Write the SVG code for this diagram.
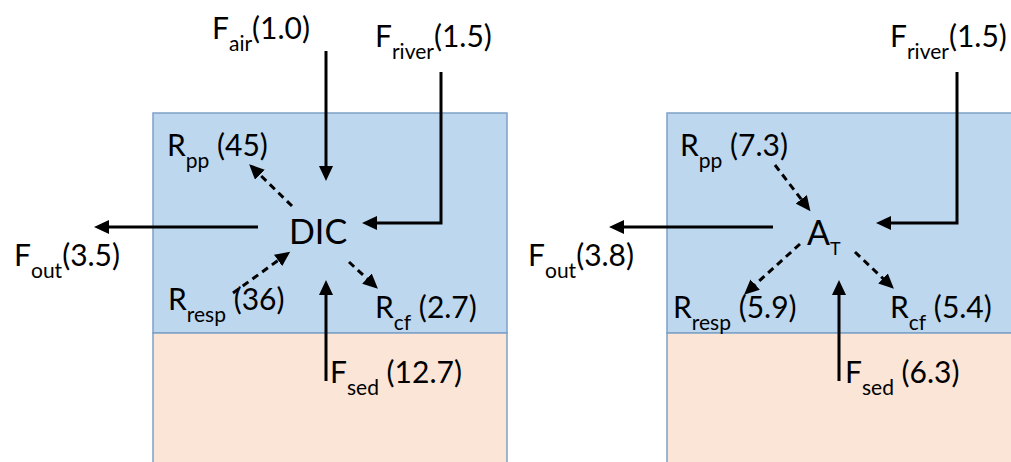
<svg xmlns="http://www.w3.org/2000/svg" width="1011" height="462" viewBox="0 0 1011 462">
<style>
.t{font-family:Lato,"Liberation Sans",sans-serif;font-size:30px;fill:#000}
.big{font-size:34px}
.sub{font-size:21px}
.w{fill:#BDD7EE;stroke:#7EA1C6;stroke-width:1.5}
.s{fill:#FBE5D6;stroke:#7EA1C6;stroke-width:1.5}
.a{fill:none;stroke:#000;stroke-width:3;marker-end:url(#ah)}
.d{stroke-dasharray:7 5}
</style>
<defs>
<marker id="ah" markerUnits="userSpaceOnUse" markerWidth="16" markerHeight="14" refX="11" refY="7" orient="auto" viewBox="0 0 16 14">
<path d="M0,0 L15,7 L0,14 z" fill="#000"/>
</marker>
</defs>
<g id="panel-left">
<rect class="w" x="153" y="113" width="354" height="220"/>
<rect class="s" x="153" y="333" width="354" height="135"/>
</g>
<g id="panel-right">
<rect class="w" x="667" y="113" width="350" height="220"/>
<rect class="s" x="667" y="333" width="350" height="135"/>
</g>
<g id="connectors">
<path class="a" d="M326,51 V177"/>
<path class="a" d="M441,72 V223 H366"/>
<path class="a" d="M258,227 H98"/>
<path class="a d" d="M292,206 L252,167"/>
<path class="a d" d="M233,293 L287,254"/>
<path class="a d" d="M349,262 L375,286"/>
<path class="a" d="M326,381 V284"/>
<path class="a" d="M957,72 V223 H880"/>
<path class="a" d="M773,227 H613"/>
<path class="a d" d="M775,165 L808,208"/>
<path class="a d" d="M800,244 L747,292"/>
<path class="a d" d="M855,252 L891,286"/>
<path class="a" d="M839,381 V284"/>
</g>
<g id="dic"><text class="t big" x="289" y="244">DIC</text></g>
<g id="at"><text class="t big" x="807" y="245">A<tspan font-size="18" dy="10">T</tspan></text></g>
<g id="l-fair"><text class="t" x="212" y="39">F<tspan class="sub" dy="12">air</tspan><tspan dy="-12">(1.0)</tspan></text></g>
<g id="l-friver"><text class="t" x="375" y="47">F<tspan class="sub" dy="12">river</tspan><tspan dy="-12">(1.5)</tspan></text></g>
<g id="l-rpp"><text class="t" x="167" y="156">R<tspan class="sub" dy="12">pp</tspan><tspan dy="-12"> (45)</tspan></text></g>
<g id="l-fout"><text class="t" x="14" y="266">F<tspan class="sub" dy="12">out</tspan><tspan dy="-12">(3.5)</tspan></text></g>
<g id="l-rresp"><text class="t" x="168" y="310">R<tspan class="sub" dy="12">resp</tspan><tspan dy="-12"> (36)</tspan></text></g>
<g id="l-rcf"><text class="t" x="375" y="318">R<tspan class="sub" dy="12">cf</tspan><tspan dy="-12"> (2.7)</tspan></text></g>
<g id="l-fsed"><text class="t" x="330" y="383">F<tspan class="sub" dy="12">sed</tspan><tspan dy="-12"> (12.7)</tspan></text></g>
<g id="r-friver"><text class="t" x="890" y="47">F<tspan class="sub" dy="12">river</tspan><tspan dy="-12">(1.5)</tspan></text></g>
<g id="r-rpp"><text class="t" x="680" y="156">R<tspan class="sub" dy="12">pp</tspan><tspan dy="-12"> (7.3)</tspan></text></g>
<g id="r-fout"><text class="t" x="528" y="266">F<tspan class="sub" dy="12">out</tspan><tspan dy="-12">(3.8)</tspan></text></g>
<g id="r-rresp"><text class="t" x="673" y="318">R<tspan class="sub" dy="12">resp</tspan><tspan dy="-12"> (5.9)</tspan></text></g>
<g id="r-rcf"><text class="t" x="890" y="318">R<tspan class="sub" dy="12">cf</tspan><tspan dy="-12"> (5.4)</tspan></text></g>
<g id="r-fsed"><text class="t" x="845" y="383">F<tspan class="sub" dy="12">sed</tspan><tspan dy="-12"> (6.3)</tspan></text></g>
</svg>
